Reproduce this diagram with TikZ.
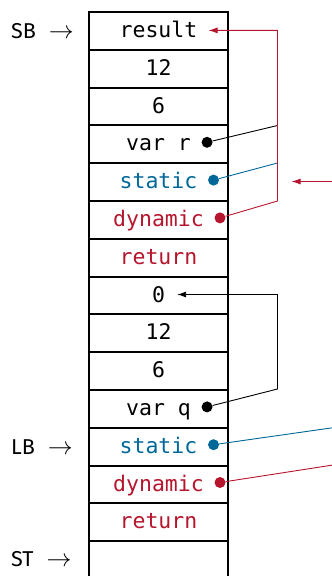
\documentclass[tikz,border=0pt]{standalone}
\usepackage{fontspec}
\setmainfont{Fira Sans}
\newfontfamily\cellfont{DejaVu Sans Mono}
\usetikzlibrary{calc,arrows.meta}
\definecolor{dynred}{RGB}{181,21,45}
\definecolor{statblue}{RGB}{0,104,153}
\tikzset{
  cell/.style={draw, line width=2pt, minimum width=139pt, minimum height=37.8pt, inner sep=0pt},
  celltext/.style={anchor=base, inner sep=0pt, font=\cellfont\fontsize{21.5}{25}\selectfont},
  dot/.style={circle, fill, inner sep=0pt, minimum size=11pt},
  link/.style={line width=0.9pt},
  tip/.style={-{Latex[length=9pt,width=6pt]}},
  lbl/.style={anchor=base west, inner sep=0pt, font=\fontsize{21.5}{25}\selectfont},
}
\begin{document}
\begin{tikzpicture}[x=1pt,y=-1pt]
\useasboundingbox (0,0) rectangle (332,576);
\clip (0,0) rectangle (332,576);
\foreach \i/\t/\c in {1/result/black, 2/12/black, 3/6/black, 4/var r/black,
  5/static/statblue, 6/dynamic/dynred, 7/return/dynred, 8/0/black, 9/12/black,
  10/6/black, 11/var q/black, 12/static/statblue, 13/dynamic/dynred,
  14/return/dynred, 15//black} {
  \node[cell] (c\i) at (158.5, {12+37.8*(\i-0.5)}) {};
  \node[celltext, text=\c] (t\i) at ($(c\i.center)+(0,6.5)$) {\t};
}
% dots
\node[dot] (d4) at ($(t4.base east)+(16,-8.5)$) {};
\node[dot, statblue] (d5) at ($(t5.base east)+(16,-8.5)$) {};
\node[dot, dynred] (d6) at ($(t6.base east)+(16,-8.5)$) {};
\node[dot] (d11) at ($(t11.base east)+(16,-8.5)$) {};
\node[dot, statblue] (d12) at ($(t12.base east)+(16,-8.5)$) {};
\node[dot, dynred] (d13) at ($(t13.base east)+(16,-8.5)$) {};
% link points
\coordinate (k4) at (277.5,125.5);
\coordinate (k5) at (277.5,163);
\coordinate (k6) at (277.5,201);
\coordinate (a1) at ($(t1.base east)+(11,-7)$);
\coordinate (k11) at (277.5,389);
\coordinate (a8) at ($(t8.base east)+(12,-7.5)$);
\coordinate (rin) at (333,181.5);
\coordinate (rout) at (291.5,181.5);
\coordinate (e12) at (333,427.7);
\coordinate (e13) at (333,465);
% connectors
\draw[link] (d4) -- (k4);
\draw[link, statblue] (d5) -- (k5);
\draw[link, dynred, tip] (d6) -- (k6) |- (a1);
\draw[link, dynred, tip] (rin) -- (rout);
\draw[link, tip] (d11) -- (k11) |- (a8);
\draw[link, statblue] (d12) -- (e12);
\draw[link, dynred] (d13) -- (e13);
% labels
\node[lbl] (lsb) at (11,38) {SB\hspace{13pt}{\fontsize{27}{30}\selectfont$\rightarrow$}};
\node[lbl] (llb) at (11,454) {LB\hspace{13pt}{\fontsize{27}{30}\selectfont$\rightarrow$}};
\node[lbl] (lst) at (11,566.7) {ST\hspace{13pt}{\fontsize{27}{30}\selectfont$\rightarrow$}};
\end{tikzpicture}
\end{document}
